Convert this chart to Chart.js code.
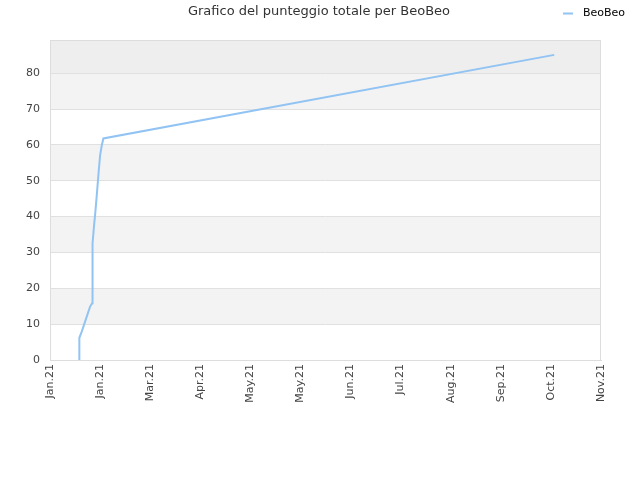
<!DOCTYPE html>
<html>
<head>
<meta charset="utf-8">
<script src="https://cdn.jsdelivr.net/npm/chart.js@4"></script>
<style>
  html, body { margin: 0; padding: 0; background: #fff; }
  #wrap { width: 640px; height: 480px; }
</style>
</head>
<body>
<div id="wrap"><canvas id="myChartPunteggio"></canvas></div>
<script>
// etichette dell'asse x (una per tacca, in ordine)
const tickLabels = ["Jan.21","Jan.21","Mar.21","Apr.21","May.21","May.21","Jun.21","Jul.21","Aug.21","Sep.21","Oct.21","Nov.21"];
// posizione sull'asse x (indice della tacca) e punteggio
const xValues = [0.586, 0.586, 0.634, 0.70, 0.80, 0.84, 0.84, 0.854, 0.854, 0.88, 0.90, 0.934, 0.966, 1.0, 1.034, 1.066, 10.066];
const scoreValues = [0, 6.2, 7.9, 10.7, 14.9, 15.8, 23.7, 24.6, 32.5, 37.6, 40.4, 46, 51.6, 57.1, 59.9, 61.8, 85.1];
const yTicks = [0, 10, 20, 30, 40, 50, 60, 70, 80];
const seriesName = "BeoBeo";
const titleText = "Grafico del punteggio totale per BeoBeo";

const points = xValues.map((x, i) => ({ x: x, y: scoreValues[i] }));
const lineColor = 'rgba(145, 195, 243, 1)';

// bande alternate di sfondo, bordo, titolo e legenda
const decor = {
    id: 'decor',
    beforeDraw(chart) {
        const { ctx, chartArea: a, scales: { y } } = chart;
        ctx.save();
        for (let i = 0; i < yTicks.length; i++) {
            const lo = yTicks[i];
            const last = i === yTicks.length - 1;
            const hi = last ? y.max : yTicks[i + 1];
            let col = null;
            if (last) col = '#eeeeee';
            else if (i % 2 === 1) col = '#f3f3f3';
            if (col) {
                const top = y.getPixelForValue(hi), bot = y.getPixelForValue(lo);
                ctx.fillStyle = col;
                ctx.fillRect(a.left, top, a.right - a.left, bot - top);
            }
        }
        ctx.restore();
    },
    afterDatasetsDraw(chart) {
        const { ctx, chartArea: a } = chart;
        ctx.save();
        ctx.strokeStyle = '#dddddd';
        ctx.lineWidth = 1;
        ctx.strokeRect(a.left + 0.5, a.top + 0.5, a.right - a.left - 1, a.bottom - a.top);
        ctx.restore();
    },
    afterDraw(chart) {
        const { ctx } = chart;
        ctx.save();
        ctx.font = '13px "DejaVu Sans"';
        ctx.fillStyle = '#333333';
        ctx.textAlign = 'center';
        ctx.textBaseline = 'middle';
        ctx.fillText(titleText, 319, 12);
        // legenda
        ctx.strokeStyle = lineColor;
        ctx.lineWidth = 2;
        ctx.beginPath();
        ctx.moveTo(563, 13.5);
        ctx.lineTo(573, 13.5);
        ctx.stroke();
        ctx.font = '11px "DejaVu Sans"';
        ctx.fillStyle = '#000000';
        ctx.textAlign = 'left';
        ctx.fillText(chart.data.datasets[0].label, 583, 13);
        ctx.restore();
    }
};

const ctx = document.getElementById('myChartPunteggio');
const myChartPunteggio = new Chart(ctx, {
    type: 'line',
    data: {
        datasets: [{
            label: seriesName,
            data: points,
            borderColor: lineColor,
            backgroundColor: lineColor,
            borderWidth: 2,
            pointRadius: 0,
            tension: 0,
            fill: false
        }]
    },
    options: {
        responsive: true,
        maintainAspectRatio: false,
        animation: false,
        layout: { padding: { left: 0, right: 39, top: 40, bottom: 0 } },
        scales: {
            x: {
                type: 'linear',
                min: 0,
                max: 11,
                afterFit(s) { s.height = 120; },
                ticks: {
                    stepSize: 1,
                    autoSkip: false,
                    maxRotation: 90,
                    minRotation: 90,
                    padding: 4,
                    color: '#444444',
                    font: { family: 'DejaVu Sans', size: 11 },
                    callback: (v) => tickLabels[v]
                },
                grid: { display: false, drawTicks: false },
                border: { color: '#dddddd' }
            },
            y: {
                min: 0,
                max: 89.25,
                afterFit(s) { s.width = 50; },
                afterBuildTicks(s) { s.ticks = yTicks.map(v => ({ value: v })); },
                ticks: {
                    padding: 10,
                    color: '#444444',
                    font: { family: 'DejaVu Sans', size: 11 }
                },
                grid: { color: '#e0e0e0', drawTicks: false },
                border: { display: false }
            }
        },
        plugins: {
            title: { display: false },
            tooltip: { enabled: false },
            legend: { display: false }
        }
    },
    plugins: [decor]
});
</script>
</body>
</html>
